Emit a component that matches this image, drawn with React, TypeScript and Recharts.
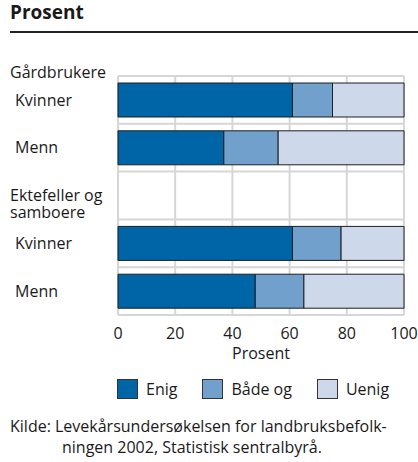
import React from "react";
import { Bar, BarChart, CartesianGrid, XAxis, YAxis } from "recharts";

const groupHeader = "Gårdbrukere";
const rowLabels = ["Kvinner", "Menn", "Ektefeller og|samboere", "Kvinner", "Menn"];
const headerRows = [false, false, true, false, false];
const enig = [61, 37, null, 61, 48];
const baadeOg = [14, 19, null, 17, 17];
const uenig = [25, 44, null, 22, 35];
const xTicks = [0, 20, 40, 60, 80, 100];

const series = [
  { key: "enig", name: "Enig", color: "#0065a6" },
  { key: "baade", name: "Både og", color: "#70a0cb" },
  { key: "uenig", name: "Uenig", color: "#cdd8ea" },
];

const data = rowLabels.map((label, i) => ({
  id: i,
  label,
  enig: enig[i],
  baade: baadeOg[i],
  uenig: uenig[i],
}));

const font = "'Open Sans', 'DejaVu Sans', sans-serif";
const textColor = "#1a1a1a";
const fs = 16;

function RowTick(props: any) {
  const { y, payload, index } = props;
  const i = payload.value as number;
  const lines = rowLabels[i].split("|");
  const x = headerRows[i] ? 10 : 15;
  return (
    <g>
      {index === 0 && (
        <text x={10} y={y - 28} dy="0.35em" fontSize={fs} fill={textColor} fontFamily={font}>
          {groupHeader}
        </text>
      )}
      {lines.map((l, k) => (
        <text key={k} x={x} y={y + k * 17} dy="0.35em" fontSize={fs} fill={textColor} fontFamily={font}>
          {l}
        </text>
      ))}
    </g>
  );
}

export default function App() {
  return (
    <div style={{ position: "absolute", left: 0, top: 0, width: 418, height: 462, background: "#fff", fontFamily: font, color: textColor }}>
      <div style={{ position: "absolute", left: 10, top: -1, fontSize: 19, fontWeight: 700, lineHeight: "26px" }}>Prosent</div>
      <div style={{ position: "absolute", left: 10, top: 31, width: 408, height: 2, background: "#222" }} />
      <BarChart
        width={418}
        height={462}
        data={data}
        layout="vertical"
        margin={{ top: 76, right: 14, bottom: 103, left: 0 }}
        barSize={34}
        style={{ position: "absolute", left: 0, top: 0 }}
      >
        <CartesianGrid
          stroke="#d6d6d6"
          strokeWidth={2}
          horizontalCoordinatesGenerator={({ offset }: any) =>
            rowLabels.map((_, i) => offset.top + (i * offset.height) / rowLabels.length).concat(offset.top + offset.height)
          }
        />
        <XAxis
          type="number"
          domain={[0, 100]}
          ticks={xTicks}
          axisLine={false}
          tickLine={false}
          tickMargin={7}
          height={44}
          tick={{ fontSize: fs, fill: textColor, fontFamily: font }}
          label={{ value: "Prosent", position: "insideBottom", offset: 0, fontSize: fs, fill: textColor, fontFamily: font }}
        />
        <YAxis type="category" dataKey="id" width={118} axisLine={false} tickLine={false} tick={<RowTick />} interval={0} />
        {series.map((s) => (
          <Bar key={s.key} dataKey={s.key} name={s.name} stackId="a" fill={s.color} stroke="#1e1e1e" strokeWidth={1} isAnimationActive={false} />
        ))}
      </BarChart>
      <div style={{ position: "absolute", top: 379, left: 117, display: "flex", fontSize: fs, lineHeight: "20px" }}>
        {series.map((s) => (
          <div key={s.key} style={{ display: "flex", alignItems: "center", marginRight: 25 }}>
            <span style={{ width: 19, height: 18, background: s.color, border: "1px solid #333", marginRight: 8, display: "inline-block" }} />
            <span>{s.name}</span>
          </div>
        ))}
      </div>
      <div style={{ position: "absolute", top: 416, left: 10, width: 408, fontSize: fs, lineHeight: "21px", whiteSpace: "nowrap" }}>
        <div>Kilde: Levekårsundersøkelsen for landbruksbefolk-</div>
        <div style={{ paddingLeft: 52 }}>ningen 2002, Statistisk sentralbyrå.</div>
      </div>
    </div>
  );
}
